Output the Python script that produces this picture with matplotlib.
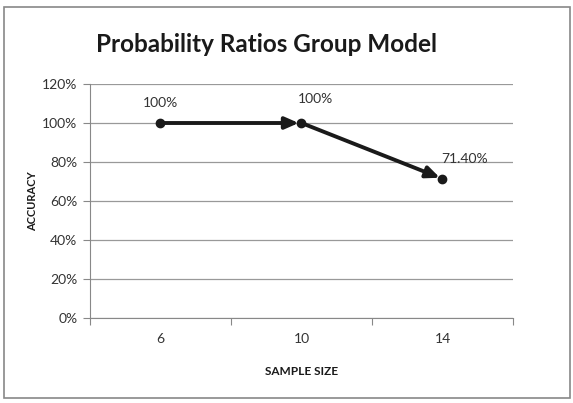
import matplotlib
matplotlib.use("Agg")
import matplotlib.pyplot as plt
from matplotlib.patches import Rectangle

categories = ["6", "10", "14"]
accuracy = [100, 100, 71.4]
labels = ["100%", "100%", "71.40%"]
yticks = [0, 20, 40, 60, 80, 100, 120]

plt.rcParams['font.family'] = ['Lato', 'DejaVu Sans']

fig = plt.figure(figsize=(5.73, 4.03), dpi=100)
fig.patches.append(Rectangle((4/573, 5/403), 566/573, 391/403, transform=fig.transFigure,
                             fill=False, edgecolor='#888888', linewidth=1.2))
ax = fig.add_axes([90/573, 1 - 318/403, 423/573, 234/403])

x = list(range(len(categories)))
ax.set_xlim(-0.5, len(categories) - 0.5)
ax.set_ylim(0, 120)
ax.set_yticks(yticks)
ax.set_yticklabels([f"{v}%" for v in yticks], fontsize=10, color='#333333')
ax.yaxis.grid(True, color='#999999', linewidth=0.9)
ax.set_axisbelow(True)

ax.set_xticks([i - 0.5 for i in range(len(categories) + 1)])
ax.set_xticklabels([])
ax.set_xticks(x, minor=True)
ax.set_xticklabels(categories, minor=True, fontsize=10, color='#333333')
ax.tick_params(axis='x', which='minor', length=0, pad=11)
ax.tick_params(axis='x', which='major', length=5, color='#888888')
ax.tick_params(axis='y', length=5, color='#888888', pad=4)

for s in ['top', 'right']:
    ax.spines[s].set_visible(False)
for s in ['left', 'bottom']:
    ax.spines[s].set_color('#888888')

for i in range(len(x) - 1):
    ax.annotate('', xy=(x[i + 1], accuracy[i + 1]), xytext=(x[i], accuracy[i]),
                arrowprops=dict(arrowstyle='-|>,head_length=0.8,head_width=0.35',
                                color='#1a1a1a', lw=2.8, shrinkA=0, shrinkB=2))
ax.plot(x, accuracy, linestyle='none', marker='o', markersize=6, color='#1a1a1a')

offsets = [(0, 10), (10, 13), (16, 10)]
for xi, yi, lab, off in zip(x, accuracy, labels, offsets):
    ax.annotate(lab, (xi, yi), xytext=off, textcoords='offset points',
                ha='center', va='bottom', fontsize=10, color='#333333')

fig.text(266/573, 1 - 45/403, "Probability Ratios Group Model", ha='center', va='center',
         fontsize=17.5, fontweight='bold', color='#1a1a1a')
ax.set_xlabel("SAMPLE SIZE", fontsize=8.5, fontweight='bold', labelpad=15, color='#1a1a1a')
ax.set_ylabel("ACCURACY", fontsize=8, fontweight='bold', labelpad=3, color='#1a1a1a')

fig.savefig("out.png", dpi=100)
